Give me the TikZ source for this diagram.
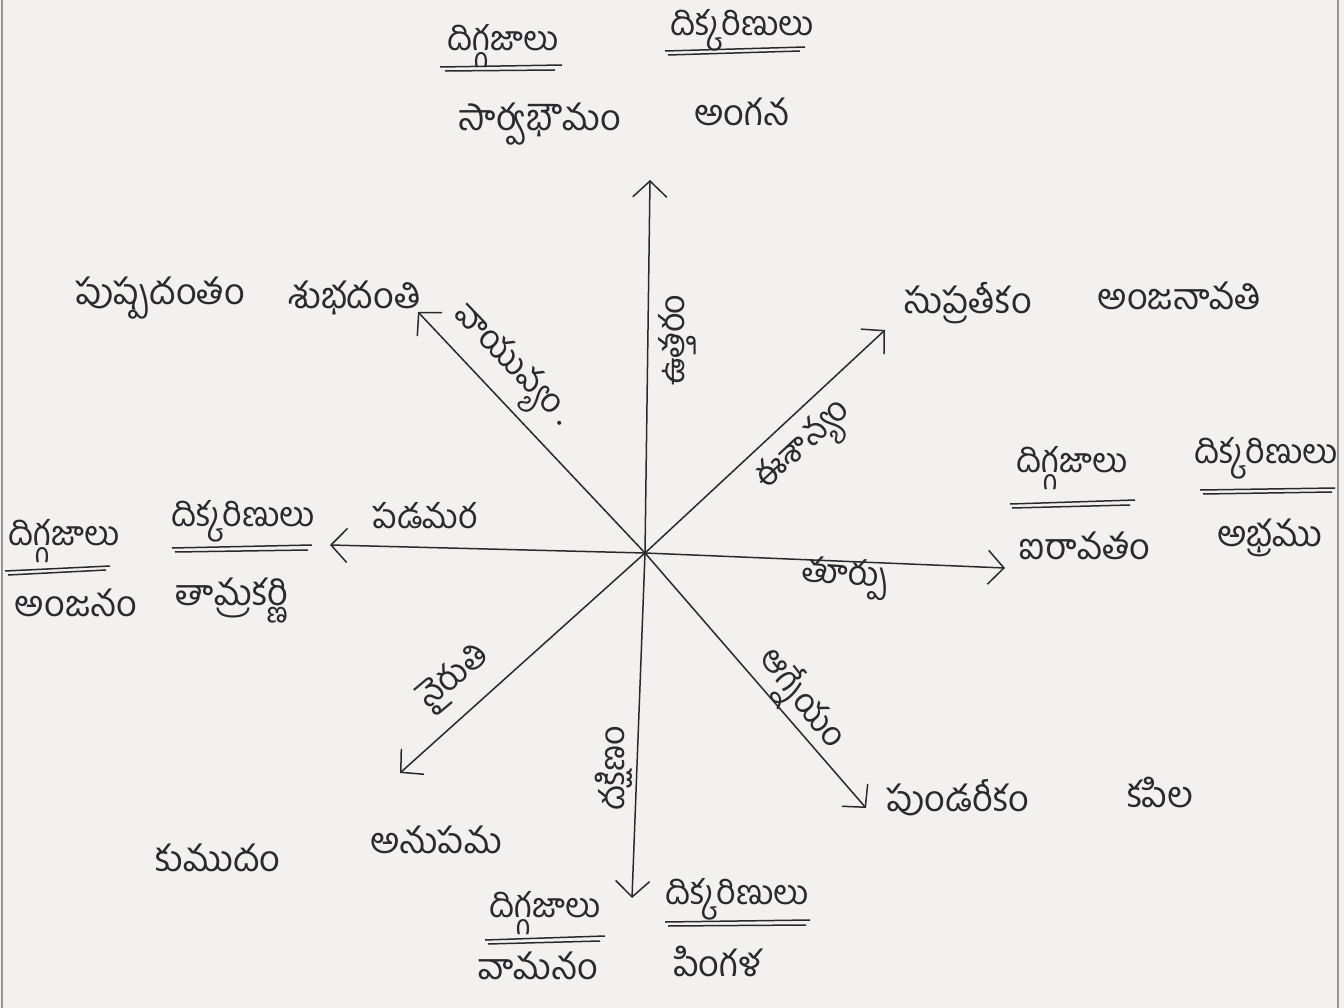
\documentclass[tikz,border=0pt]{standalone}
\usepackage{fontspec}
\newfontfamily\te[Script=Telugu]{Hind Guntur}
\usetikzlibrary{arrows.meta}
\definecolor{paper}{RGB}{242,241,239}
\definecolor{ink}{RGB}{42,42,46}
\definecolor{edge}{RGB}{150,150,150}
\begin{document}
\begin{tikzpicture}[x=1pt,y=-1pt,
 lbl/.style={font=\te\fontsize{36}{40}\selectfont, text=ink, inner sep=0pt},
 hd/.style={font=\te\fontsize{34}{38}\selectfont, text=ink, inner sep=0pt},
 dirl/.style={font=\te\fontsize{34}{38}\selectfont, text=ink, inner sep=0pt},
 ray/.style={draw=ink, line width=1.5pt, -{Straight Barb[length=16pt,width=34pt,line width=1.5pt]}},
 uline/.style={draw=ink, line width=1.5pt}]
\fill[paper] (0,0) rectangle (1344,1008);
\useasboundingbox (0,0) rectangle (1344,1008);
\draw[edge, line width=1.5pt] (2,0) -- (2,1008);
\draw[edge, line width=1.5pt] (1338,0) -- (1338,1008);

% centre and ray ends
\coordinate (O) at (645,553);
\coordinate (N) at (650,180);
\coordinate (NE) at (885,330);
\coordinate (E) at (1005,568);
\coordinate (SE) at (866,808);
\coordinate (S) at (632,898);
\coordinate (SW) at (400,773);
\coordinate (W) at (330,545);
\coordinate (NW) at (418,312);
\foreach \d in {N,NE,E,SE,S,SW,W,NW} \draw[ray] (O) -- (\d);

% direction labels
\node[dirl, rotate=90] (lN) at (677,340) {ఉత్తరం};
\node[dirl, rotate=43] (lNE) at (806,448) {ఈశాన్యం};
\node[dirl, rotate=-4] (lE) at (845,578) {తూర్పు};
\node[dirl, rotate=-52] (lSE) at (800,700) {ఆగ్నేయం};
\node[dirl, rotate=90] (lS) at (614,768) {దక్షిణం};
\node[dirl, rotate=40] (lSW) at (455,678) {నైరుతి};
\node[dirl] (lW) at (425,516) {పడమర};
\node[dirl, rotate=-46] (lNW) at (510,368) {వాయువ్యం .};

% north
\node[hd] (hN1) at (503,46) {దిగ్గజాలు};
\node[hd] (hN2) at (742,30) {దిక్కరిణులు};
\node[lbl] (eN) at (540,124) {సార్వభౌమం};
\node[lbl] (wN) at (742,112) {అంగన};
% north-east
\node[lbl] (eNE) at (968,303) {సుప్రతీకం};
\node[lbl] (wNE) at (1180,296) {అంజనావతి};
% east
\node[hd] (hE1) at (1072,468) {దిగ్గజాలు};
\node[hd] (hE2) at (1266,458) {దిక్కరిణులు};
\node[lbl] (eE) at (1085,546) {ఐరావతం};
\node[lbl] (wE) at (1270,538) {అభ్రము};
% south-east
\node[lbl] (eSE) at (958,798) {పుండరీకం};
\node[lbl] (wSE) at (1160,793) {కపిల};
% south
\node[hd] (hS1) at (545,913) {దిగ్గజాలు};
\node[hd] (hS2) at (737,899) {దిక్కరిణులు};
\node[lbl] (eS) at (538,966) {వామనం};
\node[lbl] (wS) at (718,961) {పింగళ};
% south-west
\node[lbl] (eSW) at (218,858) {కుముదం};
\node[lbl] (wSW) at (436,840) {అనుపమ};
% west
\node[hd] (hW1) at (64,541) {దిగ్గజాలు};
\node[hd] (hW2) at (243,521) {దిక్కరిణులు};
\node[lbl] (eW) at (76,603) {అంజనం};
\node[lbl] (wW) at (232,601) {తామ్రకర్ణి};
% north-west
\node[lbl] (eNW) at (160,298) {పుష్పదంతం};
\node[lbl] (wNW) at (355,298) {శుభదంతి};

% underlines (double strokes)
\draw[uline] (440,67) -- (562,65); \draw[uline] (445,71) -- (555,70);
\draw[uline] (665,51) -- (805,47); \draw[uline] (668,55) -- (800,51);
\draw[uline] (1010,504) -- (1135,500); \draw[uline] (1012,508) -- (1130,505);
\draw[uline] (1200,490) -- (1335,488); \draw[uline] (1203,494) -- (1332,492);
\draw[uline] (485,940) -- (605,936); \draw[uline] (488,944) -- (600,941);
\draw[uline] (665,922) -- (810,920); \draw[uline] (668,926) -- (806,925);
\draw[uline] (5,571) -- (110,566); \draw[uline] (8,575) -- (106,570);
\draw[uline] (172,548) -- (312,545); \draw[uline] (175,552) -- (308,550);
\end{tikzpicture}
\end{document}
